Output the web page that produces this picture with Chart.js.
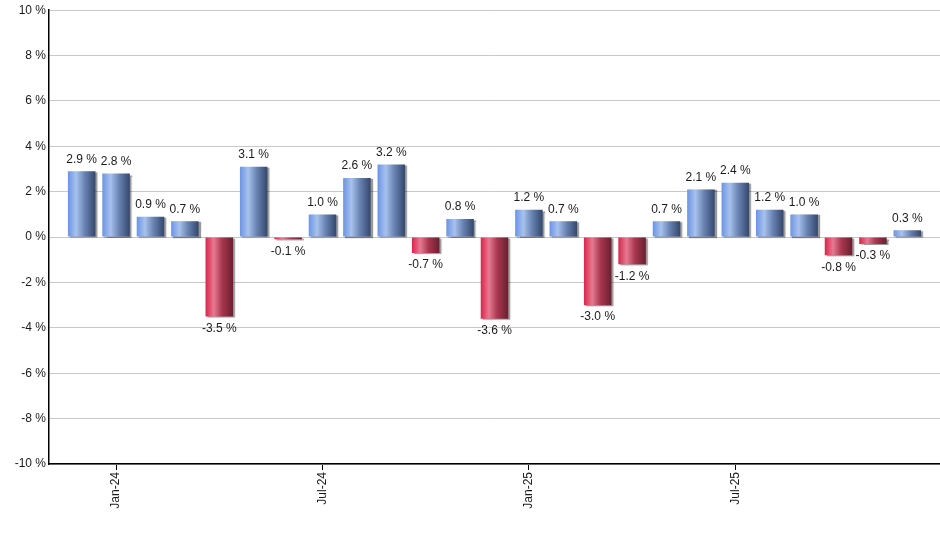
<!DOCTYPE html>
<html>
<head>
<meta charset="utf-8">
<script src="https://cdn.jsdelivr.net/npm/chart.js@4.4.1/dist/chart.umd.min.js"></script>
<style>
  html, body { margin: 0; padding: 0; background: #fff; }
  canvas { display: block; }
</style>
</head>
<body>
<canvas id="chartVar" width="940" height="550"></canvas>
<script>
const months = [
  'Dec-23', 'Jan-24', 'Feb-24', 'Mar-24', 'Apr-24', 'May-24', 'Jun-24',
  'Jul-24', 'Aug-24', 'Sep-24', 'Oct-24', 'Nov-24', 'Dec-24',
  'Jan-25', 'Feb-25', 'Mar-25', 'Apr-25', 'May-25', 'Jun-25',
  'Jul-25', 'Aug-25', 'Sep-25', 'Oct-25', 'Nov-25', 'Dec-25'
];
const changes = [
  2.9, 2.8, 0.9, 0.7, -3.5, 3.1, -0.1, 1.0, 2.6, 3.2, -0.7, 0.8, -3.6,
  1.2, 0.7, -3.0, -1.2, 0.7, 2.1, 2.4, 1.2, 1.0, -0.8, -0.3, 0.3
];
const shownTicks = [1, 7, 13, 19];
const yTicks = [-10, -8, -6, -4, -2, 0, 2, 4, 6, 8, 10];

const FONT = 'Arial, "Liberation Sans", sans-serif';

function barFill(c) {
  const chart = c.chart;
  const v = changes[c.dataIndex];
  if (!chart.chartArea || !chart.scales.x) return v < 0 ? '#c83050' : '#6a8fd8';
  const xs = chart.scales.x;
  const cx = xs.getPixelForValue(c.dataIndex);
  const half = (xs.getPixelForValue(1) - xs.getPixelForValue(0)) * 0.8 / 2;
  const g = chart.ctx.createLinearGradient(cx - half, 0, cx + half, 0);
  if (v < 0) {
    g.addColorStop(0, '#d8254a');
    g.addColorStop(0.3, '#e67a92');
    g.addColorStop(0.6, '#a8374f');
    g.addColorStop(1, '#6a1f30');
  } else {
    g.addColorStop(0, '#6a94e4');
    g.addColorStop(0.3, '#a8c2ee');
    g.addColorStop(0.6, '#6a84b4');
    g.addColorStop(1, '#33476c');
  }
  return g;
}

// soft shadow under the bars
const barShadow = {
  id: 'barShadow',
  beforeDatasetsDraw(chart) {
    const ctx = chart.ctx;
    ctx.save();
    ctx.shadowColor = 'rgba(0,0,0,0.4)';
    ctx.shadowOffsetX = 2;
    ctx.shadowOffsetY = 1;
    ctx.shadowBlur = 1;
  },
  afterDatasetsDraw(chart) {
    chart.ctx.restore();
  }
};

// value labels above / below each bar
const valueLabels = {
  id: 'valueLabels',
  afterDatasetsDraw(chart) {
    const ctx = chart.ctx;
    const meta = chart.getDatasetMeta(0);
    ctx.save();
    ctx.font = '12px ' + FONT;
    ctx.fillStyle = '#1a1a1a';
    ctx.textAlign = 'center';
    meta.data.forEach((bar, i) => {
      const v = changes[i];
      const txt = v.toFixed(1) + ' %';
      if (v >= 0) {
        ctx.textBaseline = 'bottom';
        ctx.fillText(txt, bar.x, bar.y - 6);
      } else {
        ctx.textBaseline = 'top';
        ctx.fillText(txt, bar.x, bar.y + 6);
      }
    });
    ctx.restore();
  }
};

const ctx = document.getElementById('chartVar');
new Chart(ctx, {
  type: 'bar',
  data: {
    datasets: [{
      label: 'Change',
      data: changes.map((v, i) => ({ x: i, y: v })),
      backgroundColor: barFill,
      borderWidth: 0,
      barPercentage: 0.8,
      categoryPercentage: 1.0
    }]
  },
  options: {
    responsive: false,
    animation: false,
    devicePixelRatio: 1,
    layout: { padding: { top: 3, right: 0, left: 0, bottom: 0 } },
    plugins: {
      legend: { display: false },
      tooltip: { enabled: false }
    },
    scales: {
      x: {
        type: 'linear',
        offset: false,
        min: -0.95,
        max: 24.95,
        afterBuildTicks(scale) {
          scale.ticks = shownTicks.map(v => ({ value: v }));
        },
        afterFit(scale) { scale.height = 86; },
        grid: {
          offset: false,
          drawOnChartArea: false,
          drawTicks: true,
          tickLength: 6,
          color: '#000'
        },
        border: { display: true, color: '#000', width: 1.5 },
        ticks: {
          autoSkip: false,
          minRotation: 90,
          maxRotation: 90,
          padding: 2,
          color: '#1a1a1a',
          font: { family: FONT, size: 12 },
          callback: v => months[v]
        }
      },
      y: {
        min: -10,
        max: 10,
        afterBuildTicks(scale) {
          scale.ticks = yTicks.map(v => ({ value: v }));
        },
        afterFit(scale) { scale.width = 49; },
        grid: {
          color: '#c8c8c8',
          lineWidth: 1,
          drawTicks: false
        },
        border: { display: true, color: '#000', width: 1.5 },
        ticks: {
          padding: 3,
          color: '#1a1a1a',
          font: { family: FONT, size: 12 },
          callback: v => v + ' %'
        }
      }
    }
  },
  plugins: [barShadow, valueLabels]
});
</script>
</body>
</html>
